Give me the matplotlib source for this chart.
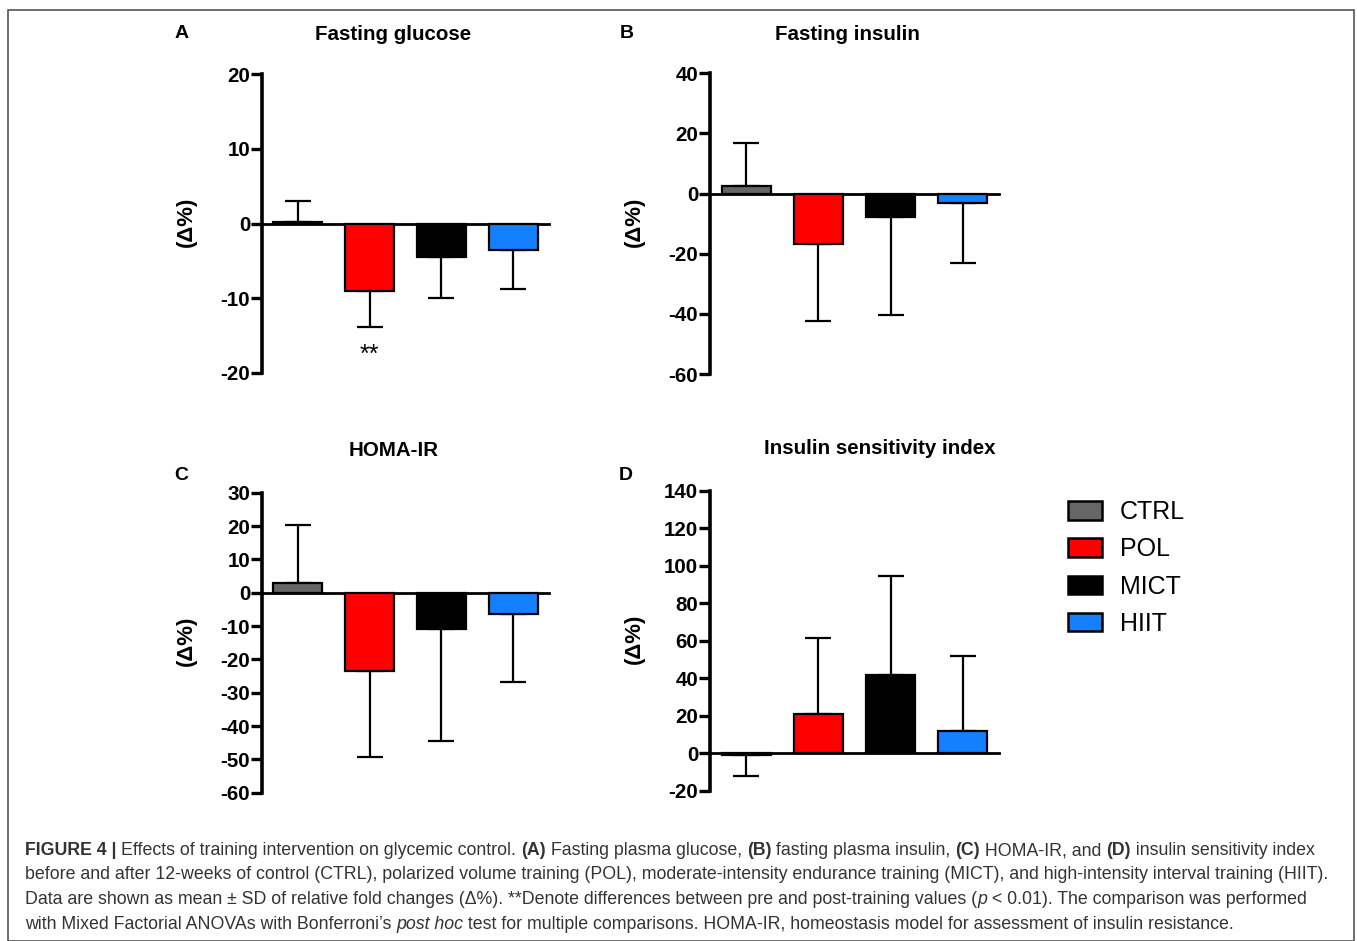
import matplotlib
matplotlib.use("Agg")
import matplotlib.pyplot as plt
from matplotlib.patches import Patch, Rectangle

plt.rcParams['font.family'] = ['Liberation Sans', 'DejaVu Sans']
plt.rcParams['axes.unicode_minus'] = False

W, H = 1357, 941

groups = ['CTRL', 'POL', 'MICT', 'HIIT']
colors = ['#666666', '#ff0000', '#000000', '#1580ff']

# mean and SD of relative fold changes (delta %)
glucose_mean = [0.2, -9.0, -4.5, -3.6]
glucose_sd = [2.8, 4.8, 5.5, 5.1]
insulin_mean = [2.4, -16.7, -7.7, -3.0]
insulin_sd = [14.5, 25.7, 32.6, 20.2]
homa_mean = [3.0, -23.4, -11.0, -6.4]
homa_sd = [17.3, 25.8, 33.5, 20.4]
isi_mean = [-1.2, 20.7, 42.0, 12.1]
isi_sd = [11.1, 41.0, 52.4, 39.8]

panels = [
    # letter, title, mean, sd, ylim, yticks, px box (l, r, top, bottom), title xy, letter xy
    ('A', 'Fasting glucose', glucose_mean, glucose_sd, (-20, 20), range(-20, 21, 10),
     (262, 549, 74, 373), (393, 34), (182, 34)),
    ('B', 'Fasting insulin', insulin_mean, insulin_sd, (-60, 40), range(-60, 41, 20),
     (710, 999, 73.3, 374), (847, 34), (627, 34)),
    ('C', 'HOMA-IR', homa_mean, homa_sd, (-60, 30), range(-60, 31, 10),
     (262, 549, 492.7, 792.7), (394, 451), (181, 475)),
    ('D', 'Insulin sensitivity index', isi_mean, isi_sd, (-20, 140), range(-20, 141, 20),
     (710, 999, 491, 790.7), (880, 448), (626, 475)),
]

fig = plt.figure(figsize=(W / 100, H / 100), dpi=100)


def fx(x):
    return x / W


def fy(y):
    return 1 - y / H


for letter, title, mean, sd, ylim, yticks, box, txy, lxy in panels:
    l, r, t, b = box
    ax = fig.add_axes([fx(l), fy(b), (r - l) / W, (b - t) / H])
    pos = list(range(len(groups)))
    ax.bar(pos, mean, width=0.68, color=colors, edgecolor='black', linewidth=1.6, zorder=3)
    lower = [s if m < 0 else 0 for m, s in zip(mean, sd)]
    upper = [s if m >= 0 else 0 for m, s in zip(mean, sd)]
    ax.errorbar(pos, mean, yerr=[lower, upper], fmt='none', ecolor='black',
                elinewidth=1.6, capsize=9.5, capthick=1.6, zorder=2)
    ax.set_xlim(-0.5, 3.5)
    ax.set_ylim(*ylim)
    ax.set_yticks(list(yticks))
    ax.set_xticks([])
    ax.spines['top'].set_visible(False)
    ax.spines['right'].set_visible(False)
    ax.spines['bottom'].set_position(('data', 0))
    ax.spines['left'].set_linewidth(2.6)
    ax.spines['bottom'].set_linewidth(2.0)
    ax.tick_params(axis='y', direction='out', length=8, width=2.4, labelsize=14.8, pad=0.5)
    for lab in ax.get_yticklabels():
        lab.set_fontweight('bold')
    ax.patch.set_visible(False)
    fig.text(fx(txy[0]), fy(txy[1]), title, ha='center', va='center',
             fontsize=14.8, fontweight='bold')
    fig.text(fx(lxy[0]), fy(lxy[1]), letter, ha='center', va='center',
             fontsize=14, fontweight='bold')
    fig.text(fx(l - 76), fy((t + b) / 2 - 2), '(\u0394%)', rotation=90, ha='center',
             va='center', fontsize=16, fontweight='bold')
    if letter == 'A':
        ax.text(1, -17.6, '**', ha='center', va='center', fontsize=18)

handles = [Patch(facecolor=c, edgecolor='black', linewidth=1.8) for c in colors]
fig.legend(handles, groups, loc='upper left', bbox_to_anchor=(fx(1068), fy(500)),
           frameon=False, fontsize=18, handlelength=1.36, handleheight=0.76,
           labelspacing=0.53, handletextpad=0.72, borderpad=0, borderaxespad=0)

# figure frame
fig.patches.append(Rectangle((fx(8), fy(941)), fx(1354) - fx(8), fy(10) - fy(941),
                             transform=fig.transFigure, fill=False,
                             edgecolor='#555555', linewidth=1.2))

# caption with mixed styles
caption = [
    [('FIGURE 4 | ', 'bold', 'normal'),
     ('Effects of training intervention on glycemic control. ', 'normal', 'normal'),
     ('(A)', 'bold', 'normal'), (' Fasting plasma glucose, ', 'normal', 'normal'),
     ('(B)', 'bold', 'normal'), (' fasting plasma insulin, ', 'normal', 'normal'),
     ('(C)', 'bold', 'normal'), (' HOMA-IR, and ', 'normal', 'normal'),
     ('(D)', 'bold', 'normal'), (' insulin sensitivity index', 'normal', 'normal')],
    [('before and after 12-weeks of control (CTRL), polarized volume training (POL), '
      'moderate-intensity endurance training (MICT), and high-intensity interval training (HIIT).',
      'normal', 'normal')],
    [('Data are shown as mean \u00b1 SD of relative fold changes (\u0394%). **Denote differences '
      'between pre and post-training values (', 'normal', 'normal'),
     ('p', 'normal', 'italic'),
     (' < 0.01). The comparison was performed', 'normal', 'normal')],
    [('with Mixed Factorial ANOVAs with Bonferroni\u2019s ', 'normal', 'normal'),
     ('post hoc', 'normal', 'italic'),
     (' test for multiple comparisons. HOMA-IR, homeostasis model for assessment of insulin resistance.',
      'normal', 'normal')],
]
line_y = [855, 879, 904, 929]

fig.canvas.draw()
renderer = fig.canvas.get_renderer()
for runs, yb in zip(caption, line_y):
    x = 25
    for s, weight, style in runs:
        tx = fig.text(fx(x), fy(yb), s, ha='left', va='baseline', fontsize=12.75,
                      fontweight=weight, fontstyle=style, color='#333333')
        ext = tx.get_window_extent(renderer)
        x += ext.width

fig.savefig('out.png', dpi=100)
